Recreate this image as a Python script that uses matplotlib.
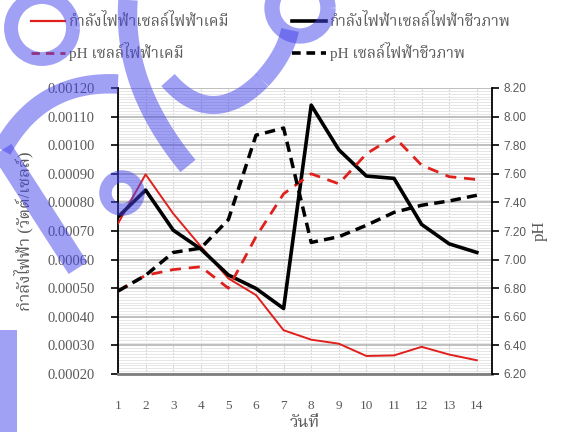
import numpy as np
import matplotlib
matplotlib.use('Agg')
import matplotlib.pyplot as plt
from matplotlib import font_manager
from matplotlib.ft2font import FT2Font
from matplotlib.ticker import MultipleLocator
from matplotlib.lines import Line2D
from matplotlib.patches import Arc

days = list(range(1, 15))
chem_power = [0.000726, 0.000898, 0.000761, 0.000646, 0.000534, 0.000476, 0.000353,
              0.000320, 0.000306, 0.000263, 0.000265, 0.000295, 0.000268, 0.000248]
bio_power = [0.000749, 0.000843, 0.000703, 0.000637, 0.000546, 0.000499, 0.000429,
             0.001140, 0.000984, 0.000892, 0.000884, 0.000723, 0.000655, 0.000625]
chem_ph = [6.78, 6.89, 6.93, 6.95, 6.80, 7.16, 7.46, 7.60, 7.53, 7.74, 7.86, 7.66, 7.58, 7.56]
bio_ph = [6.78, 6.89, 7.05, 7.08, 7.28, 7.87, 7.92, 7.12, 7.16, 7.24, 7.33, 7.38, 7.41, 7.45]

lbl_chem_power = 'กำลังไฟฟ้าเซลล์ไฟฟ้าเคมี'
lbl_bio_power = 'กำลังไฟฟ้าเซลล์ไฟฟ้าชีวภาพ'
lbl_chem_ph = 'pH เซลล์ไฟฟ้าเคมี'
lbl_bio_ph = 'pH เซลล์ไฟฟ้าชีวภาพ'
ylabel_left = 'กำลังไฟฟ้า (วัตต์/เซลล์)'
ylabel_right = 'pH'
xlabel = 'วันที่'


def thai_family():
    names = {f.name for f in font_manager.fontManager.ttflist}
    for p in ['Noto Serif Thai', 'Norasi', 'Kinnari', 'Noto Sans Thai', 'Loma', 'Garuda']:
        if p in names:
            return p
    for f in font_manager.fontManager.ttflist:
        try:
            if 0x0E01 in FT2Font(f.fname).get_charmap():
                return f.name
        except Exception:
            pass
    return 'DejaVu Sans'


thai = thai_family()
serif = ['Liberation Serif', thai]
grey = '#595959'
red = '#e0201c'

fig = plt.figure(figsize=(5.65, 4.32), dpi=100)
ax = fig.add_axes([118 / 565, 1 - 374 / 432, 374 / 565, 286 / 432])
ax2 = ax.twinx()

ax.set_xlim(1, 14.55)
ax.set_ylim(0.0002, 0.0012)
ax2.set_ylim(6.2, 8.2)

# grid
ax.yaxis.set_major_locator(MultipleLocator(0.0001))
ax.yaxis.set_minor_locator(MultipleLocator(0.00001))
ax.set_xticks(days)
ax.grid(True, which='major', axis='y', color='#b4b4b4', lw=1.2)
ax.grid(True, which='minor', axis='y', color='#e6e6e6', lw=0.7)
ax.grid(True, which='major', axis='x', color='#cfcfcf', lw=0.8, ls=(0, (1.5, 1.5)))
ax.set_axisbelow(True)

ax.plot(days, chem_power, color=red, lw=1.4, zorder=3)
ax.plot(days, bio_power, color='black', lw=2.6, zorder=4)
ax2.plot(days, chem_ph, color=red, lw=2.0, dashes=(4.0, 2.8), zorder=3)
ax2.plot(days, bio_ph, color='black', lw=2.5, dashes=(3.0, 1.8), zorder=4)

ax.yaxis.set_major_formatter(lambda v, p: f'{v:.5f}')
ax2.yaxis.set_major_locator(MultipleLocator(0.2))
ax2.yaxis.set_major_formatter(lambda v, p: f'{v:.2f}')

ax.spines['top'].set_visible(False)
ax2.spines['top'].set_visible(False)
ax.spines['left'].set_color('black')
ax.spines['left'].set_linewidth(1.3)
ax2.spines['right'].set_color('black')
ax2.spines['right'].set_linewidth(1.3)
ax2.spines['left'].set_visible(False)
ax.spines['right'].set_visible(False)
ax.spines['bottom'].set_color('#7f7f7f')
ax.spines['bottom'].set_linewidth(2.0)
ax2.spines['bottom'].set_visible(False)

ax.tick_params(axis='y', which='major', length=5, width=1.2, color='black', pad=12)
ax.tick_params(axis='y', which='minor', length=0)
ax.tick_params(axis='x', length=0, pad=19)
ax2.tick_params(axis='y', length=5, width=1.2, color='black', pad=3)

for t in ax.get_yticklabels():
    t.set_fontfamily('Liberation Serif')
    t.set_fontsize(10.5)
    t.set_color(grey)
for t in ax.get_xticklabels():
    t.set_fontfamily('Liberation Serif')
    t.set_fontsize(9.5)
    t.set_color(grey)
for t in ax2.get_yticklabels():
    t.set_fontfamily('Liberation Sans')
    t.set_fontsize(8.5)
    t.set_color(grey)

ax.set_ylabel(ylabel_left, family=serif, fontsize=12, color=grey, labelpad=10)
ax2.set_ylabel(ylabel_right, family=serif, fontsize=12, color=grey, rotation=90, labelpad=4)
ax.set_xlabel(xlabel, family=serif, fontsize=12, color=grey, labelpad=2)

# legend, two columns placed separately
h_cp = Line2D([], [], color=red, lw=1.6)
h_ch = Line2D([], [], color=red, lw=2.0, dashes=(3.0, 2.2))
h_bp = Line2D([], [], color='black', lw=2.6)
h_bh = Line2D([], [], color='black', lw=2.6, dashes=(2.4, 1.6))
leg_font = font_manager.FontProperties(family=serif, size=11)
for hs, ls, x0 in [([h_cp, h_ch], [lbl_chem_power, lbl_chem_ph], 31),
                   ([h_bp, h_bh], [lbl_bio_power, lbl_bio_ph], 292)]:
    leg = fig.legend(hs, ls, loc='upper left', bbox_to_anchor=(x0 / 565, 1 - 13 / 432),
                     frameon=False, prop=leg_font, handlelength=2.2, handletextpad=0.3,
                     labelspacing=0.85, borderpad=0, borderaxespad=0)
    for t in leg.get_texts():
        t.set_color(grey)

# watermark overlay (pixel coordinates)
wm = fig.add_axes([0, 0, 1, 1], zorder=10)
wm.set_xlim(0, 565)
wm.set_ylim(432, 0)
wm.axis('off')
wc = (0.26, 0.26, 0.92, 0.5)


def stroke(pts, w):
    pts = np.array(pts, float)
    t = np.linspace(0, 1, 40)[:, None]
    if len(pts) == 3:
        xy = (1 - t) ** 2 * pts[0] + 2 * (1 - t) * t * pts[1] + t ** 2 * pts[2]
    else:
        xy = pts
    wm.plot(xy[:, 0], xy[:, 1], color=wc, lw=w, solid_capstyle='butt', solid_joinstyle='round')


stroke([(78, 268), (2, 150)], 16)
stroke([(2, 150), (40, 80), (118, 84)], 14)
stroke([(128, 0), (122, 86), (188, 166)], 14)
stroke([(168, 80), (212, 130), (262, 80)], 13)
stroke([(262, 80), (285, 55), (290, 30)], 13)
stroke([(8, 330), (8, 432)], 13)
for cx, cy, d, w in [(122, 193, 33, 9), (300, 8, 56, 11), (42, 28, 62, 10)]:
    wm.add_patch(Arc((cx, cy), d, d, color=wc, lw=w))

fig.savefig('out.png', dpi=100)
